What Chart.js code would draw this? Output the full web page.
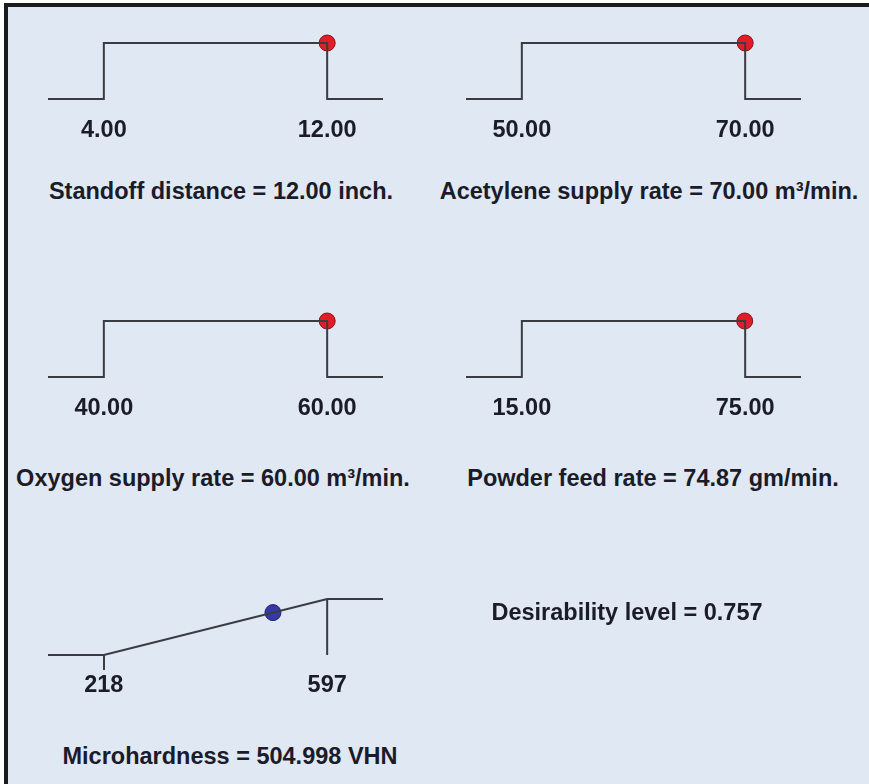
<!DOCTYPE html>
<html>
<head>
<meta charset="utf-8">
<script src="https://cdn.jsdelivr.net/npm/chart.js@4"></script>
<style>
  html, body { margin: 0; padding: 0; background: #fff; width: 869px; height: 784px; overflow: hidden; font-family: "Liberation Sans", Arial, sans-serif; }
  #frame { position: absolute; left: 4px; top: 3px; width: 865px; height: 778px; background: #dfe8f3; border-left: 4px solid #1b1b1b; border-top: 4px solid #1b1b1b; }
  canvas { position: absolute; }
  .lbl { position: absolute; width: 600px; text-align: center; font-weight: bold; font-size: 23.5px; line-height: 1; color: #1b1b29; white-space: nowrap; }
</style>
</head>
<body>
<div id="frame"></div>
<script>
// Optimisation results (one ramp per factor / response)
const factors = ["Standoff distance", "Acetylene supply rate", "Oxygen supply rate", "Powder feed rate", "Microhardness"];
const lowLimits = [4, 50, 40, 15, 218];
const highLimits = [12, 70, 60, 75, 597];
const optimumValues = [12.0, 70.0, 60.0, 74.87, 504.998];
const optimumDesirability = [1, 1, 1, 1, 0.757];
const units = ["inch.", "m³/min.", "m³/min.", "gm/min.", "VHN"];
const valueDecimals = [2, 2, 2, 2, 3];
const tickDecimals = [2, 2, 2, 2, 0];
const desirabilityLevel = 0.757;

// layout: top-left of each plot area, and title centres
const boxes = [[48, 43], [466, 43], [48, 321], [466, 321], [48, 599]];
const titleSpots = [[221, 191], [649, 191], [213, 478], [653, 478], [230, 756], [627, 612]];

const lineColor = "#3b3b42";
const textColor = "#1b1b29";
const padX = 24, padTop = 14, areaW = 335, areaH = 56, axisH = 48;

function addTitle(text, spot) {
  const d = document.createElement("div");
  d.className = "lbl";
  d.textContent = text;
  d.style.left = (spot[0] - 300) + "px";
  d.style.top = (spot[1] - 11) + "px";
  document.body.appendChild(d);
}

factors.forEach((name, i) => {
  const lo = lowLimits[i], hi = highLimits[i], ext = (hi - lo) / 4;
  const isMax = i === 4; // response: larger is better

  const canvas = document.createElement("canvas");
  canvas.width = areaW + 2 * padX;
  canvas.height = padTop + areaH + axisH;
  canvas.style.left = (boxes[i][0] - padX) + "px";
  canvas.style.top = (boxes[i][1] - padTop) + "px";
  document.body.appendChild(canvas);

  const path = isMax
    ? [{ x: lo - ext, y: 0 }, { x: lo, y: 0 }, { x: hi, y: 1 }, { x: hi + ext, y: 1 }]
    : [{ x: lo - ext, y: 0 }, { x: lo, y: 0 }, { x: lo, y: 1 }, { x: hi, y: 1 }, { x: hi, y: 0 }, { x: hi + ext, y: 0 }];

  const datasets = [
    { data: path, showLine: true, borderColor: lineColor, borderWidth: 2, pointRadius: 0, clip: false }
  ];
  if (isMax) {
    datasets.push({ data: [{ x: hi, y: 1 }, { x: hi, y: 0 }], showLine: true, borderColor: lineColor, borderWidth: 2, pointRadius: 0, clip: false });
  }
  datasets.push({
    data: [{ x: optimumValues[i], y: optimumDesirability[i] }],
    pointRadius: 8,
    backgroundColor: isMax ? "#3539a6" : "#e11d27",
    borderColor: isMax ? "#1e2272" : "#8a1218",
    borderWidth: 1,
    clip: false
  });

  new Chart(canvas.getContext("2d"), {
    type: "scatter",
    data: { datasets },
    options: {
      responsive: false,
      animation: false,
      layout: { padding: { left: padX, right: padX, top: padTop, bottom: 0 } },
      plugins: { legend: { display: false }, tooltip: { enabled: false } },
      scales: {
        x: {
          type: "linear",
          min: lo - ext,
          max: hi + ext,
          afterBuildTicks: (s) => { s.ticks = [{ value: lo }, { value: hi }]; },
          afterFit: (s) => { s.height = axisH; },
          border: { display: false },
          grid: {
            drawOnChartArea: false,
            drawTicks: isMax,
            tickLength: 15,
            lineWidth: 2,
            color: (c) => (c.index === 0 ? lineColor : "transparent")
          },
          ticks: {
            padding: isMax ? 1 : 17,
            color: textColor,
            maxRotation: 0,
            autoSkip: false,
            font: { family: "'Liberation Sans', Arial, sans-serif", size: 23.5, weight: "bold" },
            callback: (v) => Number(v).toFixed(tickDecimals[i])
          }
        },
        y: { display: false, min: 0, max: 1 }
      }
    }
  });

  addTitle(name + " = " + optimumValues[i].toFixed(valueDecimals[i]) + " " + units[i], titleSpots[i]);
});

addTitle("Desirability level = " + desirabilityLevel.toFixed(3), titleSpots[5]);
</script>
</body>
</html>
